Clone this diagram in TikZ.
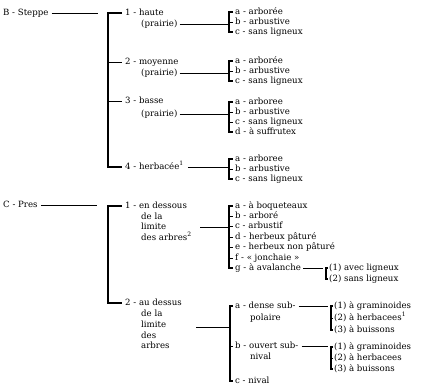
\documentclass[tikz,border=0pt]{standalone}
\usepackage{fontspec}
\setmainfont{DejaVu Serif}
\begin{document}
\begin{tikzpicture}[x=1pt,y=-1pt,
  tx/.style={anchor=west,inner sep=0pt,text height=6.5pt,text depth=2pt,font=\fontsize{8.6}{10}\selectfont},
  ln/.style={line width=0.8pt},
  br/.style={line width=1.2pt}]
\useasboundingbox[fill=white] (0,0) rectangle (437,391);
% ---------- B ----------
\node[tx] (B) at (3,13) {B - Steppe};
\coordinate (jB) at (98,0);
\coordinate (kB) at (108,0);
\node[tx] (b1w) at (125,13) {1 - haute};
\node[tx] (b1p) at (141,24) {(prairie)};
\node[tx] (b2w) at (125,62) {2 - moyenne};
\node[tx] (b2p) at (141,73) {(prairie)};
\node[tx] (b3w) at (125,101) {3 - basse};
\node[tx] (b3p) at (141,114) {(prairie)};
\node[tx] (b4w) at (125,167) {4 - herbacée\textsuperscript{1}};
\draw[ln] ([xshift=3pt]B.east) -- (B.east -| jB);
\draw[br] ([xshift=-3pt]b1w.west) -- (b1w.west -| kB) -- (b4w.west -| kB) -- ([xshift=-3pt]b4w.west);
\draw[ln] (b2w.west -| kB) -- ([xshift=-3pt]b2w.west);
\draw[ln] (b3w.west -| kB) -- ([xshift=-3pt]b3w.west);
% leaves B
\coordinate (k1) at (229,0);
\node[tx] (l1a) at (235,12) {a - arborée};
\node[tx] (l1b) at (235,22) {b - arbustive};
\node[tx] (l1c) at (235,32) {c - sans ligneux};
\node[tx] (l2a) at (235,61) {a - arborée};
\node[tx] (l2b) at (235,71) {b - arbustive};
\node[tx] (l2c) at (235,81) {c - sans ligneux};
\node[tx] (l3a) at (235,102) {a - arboree};
\node[tx] (l3b) at (235,112) {b - arbustive};
\node[tx] (l3c) at (235,122) {c - sans ligneux};
\node[tx] (l3d) at (235,132) {d - à suffrutex};
\node[tx] (l4a) at (235,159) {a - arboree};
\node[tx] (l4b) at (235,169) {b - arbustive};
\node[tx] (l4c) at (235,179) {c - sans ligneux};
\foreach \a/\z in {l1a/l1c,l2a/l2c,l3a/l3d,l4a/l4c}{
  \draw[br] ([xshift=-2pt]\a.west) -- (\a.west -| k1) -- (\z.west -| k1) -- ([xshift=-2pt]\z.west);}
\foreach \m in {l1b,l2b,l3b,l3c,l4b}{
  \draw[ln] (\m.west -| k1) -- ([xshift=-2pt]\m.west);}
\draw[ln] ([xshift=2pt]b1p.east) -- (b1p.east -| k1);
\draw[ln] ([xshift=2pt]b2p.east) -- (b2p.east -| k1);
\draw[ln] ([xshift=2pt]b3p.east) -- (b3p.east -| k1);
\draw[ln] ([xshift=4pt]b4w.east) -- (b4w.east -| k1);
% ---------- C ----------
\node[tx] (C) at (3,205) {C - Pres};
\coordinate (jC) at (97,0);
\node[tx] (c1w) at (125,206) {1 - en dessous};
\node[tx] (c1b) at (141,217) {de la};
\node[tx] (c1c) at (141,227) {limite};
\node[tx] (c1d) at (141,238) {des arbres\textsuperscript{2}};
\node[tx] (c2w) at (125,303) {2 - au dessus};
\node[tx] (c2b) at (141,314) {de la};
\node[tx] (c2c) at (141,325) {limite};
\node[tx] (c2d) at (141,336) {des};
\node[tx] (c2e) at (141,346) {arbres};
\draw[ln] ([xshift=3pt]C.east) -- (C.east -| jC);
\draw[br] ([xshift=-3pt]c1w.west) -- (c1w.west -| kB) -- (c2w.west -| kB) -- ([xshift=-3pt]c2w.west);
% leaves C1
\node[tx] (m1) at (235,206) {a - à boqueteaux};
\node[tx] (m2) at (235,216) {b - arboré};
\node[tx] (m3) at (235,226) {c - arbustif};
\node[tx] (m4) at (235,237) {d - herbeux pâturé};
\node[tx] (m5) at (235,247) {e - herbeux non pâturé};
\node[tx] (m6) at (235,258) {f - « jonchaie »};
\node[tx] (m7) at (235,268) {g - à avalanche};
\draw[br] ([xshift=-2pt]m1.west) -- (m1.west -| k1) -- (m7.west -| k1) -- ([xshift=-2pt]m7.west);
\foreach \m in {m2,m3,m4,m5,m6}{\draw[ln] (\m.west -| k1) -- ([xshift=-2pt]\m.west);}
\coordinate (s1) at (200,227);
\draw[ln] (s1) -- (s1 -| k1);
\coordinate (kg) at (326,0);
\node[tx] (g1) at (329,268) {(1) avec ligneux};
\node[tx] (g2) at (329,279) {(2) sans ligneux};
\draw[ln] ([xshift=2pt]m7.east) -- ([xshift=-3pt]m7.east -| kg);
\draw[br] ([xshift=-1pt]g1.west) -- (g1.west -| kg) -- (g2.west -| kg) -- ([xshift=-1pt]g2.west);
% leaves C2
\coordinate (k5) at (230,0);
\node[tx] (n1) at (235,306) {a - dense sub-};
\node[tx] (n1b) at (250,318) {polaire};
\node[tx] (n2) at (235,346) {b - ouvert sub-};
\node[tx] (n2b) at (250,357) {nival};
\node[tx] (n3) at (235,381) {c - nival};
\draw[br] ([xshift=-2pt]n1.west) -- (n1.west -| k5) -- (n3.west -| k5) -- ([xshift=-2pt]n3.west);
\draw[ln] (n2.west -| k5) -- ([xshift=-2pt]n2.west);
\coordinate (s2) at (196,327);
\draw[ln] (s2) -- (s2 -| k5);
\coordinate (kp) at (331,0);
\node[tx] (p1) at (334,306) {(1) à graminoides};
\node[tx] (p2) at (334,318) {(2) à herbacees\textsuperscript{1}};
\node[tx] (p3) at (334,330) {(3) à buissons};
\draw[ln] ([xshift=3pt]n1.east) -- ([xshift=-3pt]n1.east -| kp);
\draw[br] ([xshift=-1pt]p1.west) -- (p1.west -| kp) -- (p3.west -| kp) -- ([xshift=-1pt]p3.west);
\draw[ln] (p2.west -| kp) -- ([xshift=-1pt]p2.west);
\node[tx] (q1) at (334,347) {(1) à graminoides};
\node[tx] (q2) at (334,358) {(2) à herbacees};
\node[tx] (q3) at (334,369) {(3) à buissons};
\draw[ln] ([xshift=3pt]n2.east) -- ([xshift=-3pt]n2.east -| kp);
\draw[br] ([xshift=-1pt]q1.west) -- (q1.west -| kp) -- (q3.west -| kp) -- ([xshift=-1pt]q3.west);
\draw[ln] (q2.west -| kp) -- ([xshift=-1pt]q2.west);
\end{tikzpicture}
\end{document}
